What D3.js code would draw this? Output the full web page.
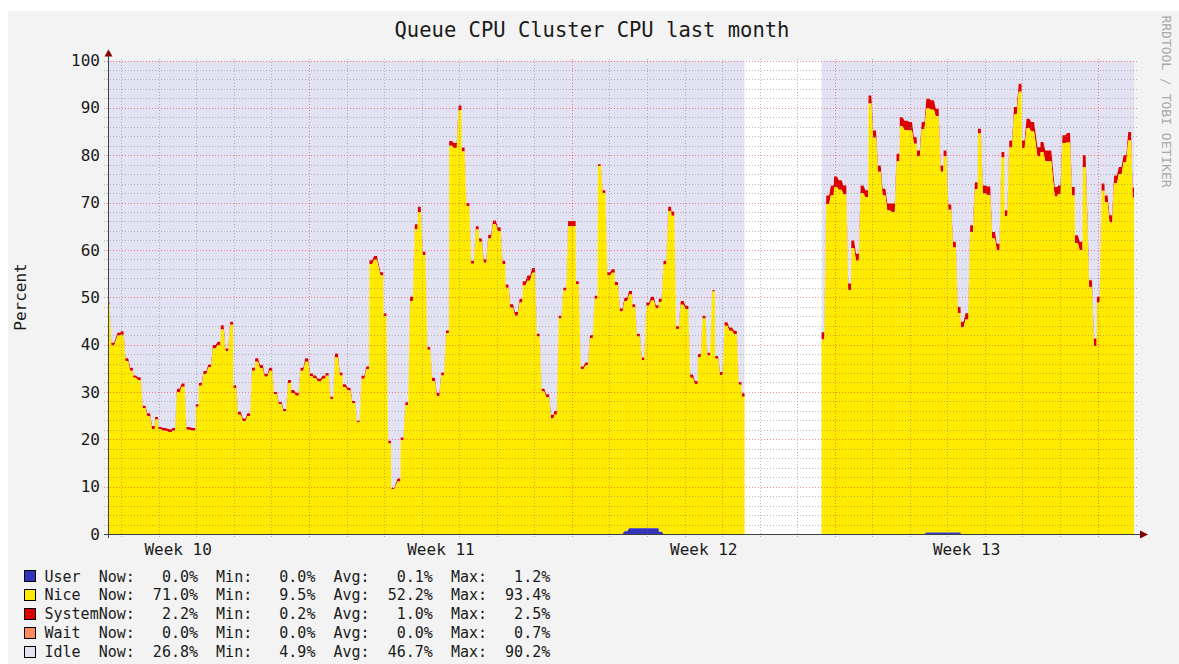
<html lang="en">
<head>
    <meta charset="UTF-8">
    <title>Queue CPU Cluster CPU last month</title>
    <style>
        body { margin: 0; background: #fff; }
        text { font-family: "DejaVu Sans Mono", monospace; fill: #1a1a1a; }
        .minor { stroke: rgba(120, 120, 120, 0.5); stroke-dasharray: 1,2; shape-rendering: crispEdges; }
        .major { stroke: rgba(255, 0, 0, 0.45); stroke-dasharray: 1,2; shape-rendering: crispEdges; }
    </style>
</head>
<body>

    <svg width="1179" height="664"></svg>

    <script src="https://cdn.jsdelivr.net/npm/d3@7"></script>
    <script>
        (function() {
            'use strict';

            var WIDTH = 1179;
            var HEIGHT = 664;
            var LEFT = 108, RIGHT = 1134, TOP = 60.5, BOTTOM = 534;

            // hours since the first sample (2012-03-06 15:30 UTC)
            var START = Date.UTC(2012, 2, 6, 15, 30);
            var SPAN_HOURS = 655.8;
            var HALF_STEP = 0.9; // each sample is drawn as a short flat step

            var hours = [
                0,3,7,9,12,15,17,20,23,26, 29,31,33,36,40,42,45,48,51,55,
                57,59,62,65,68,71,73,76,79,81, 84,87,90,93,95,98,101,104,107,110,
                113,116,118,121,124,127,130,132,135,138, 140,143,146,149,151,154,157,160,163,166,
                168,171,175,177,180,182,186,188,191,194, 197,199,202,205,208,211,214,217,219,222,
                225,227,230,233,236,238,241,244,247,250, 253,255,258,261,264,266,269,272,275,278,
                281,284,286,289,292,295,298,300,303,306, 309,312,314,317,320,323,325,328,331,334,
                336,339,342,345,348,351,353,356,359,361, 364,367,370,373,376,378,381,384,387,389,
                392,395,398,401,404,406,
                430,
                457,460,463,465,468,471,474,476,479, 482,485,487,490,493,496,499,502,505,507,
                510,513,516,518,521,524,527,530,533,535, 538,541,544,546,549,552,555,557,560,563,
                566,569,572,574,577,580,583,585,588,591, 595,597,600,602,606,608,611,614,617,619,
                622,624,628,631,633,636,638,641,644,647, 650,653,655.8
            ];

            var nice = [
                48.5,39.8,41.9,42.1,36.5,34.5,33.0,32.5,26.6,24.9, 22.2,24.2,22.1,21.8,21.5,21.8,30.0,31.1,22.0,21.8,
                26.9,31.3,33.8,35.2,39.2,39.9,43.2,38.6,44.2,30.8, 25.2,23.8,24.9,34.5,36.4,35.0,33.2,34.5,29.5,27.4,
                25.9,31.9,29.8,29.2,34.5,36.4,33.3,32.9,32.2,32.8, 33.4,28.5,37.3,33.5,31.0,30.3,27.6,23.6,32.8,34.8,
                57.0,57.9,54.6,46.0,19.1,9.5,11.1,19.8,27.2,49.2, 64.4,68.0,58.9,38.9,32.3,29.1,33.5,42.4,82.0,81.5,
                89.5,80.8,69.2,57.1,64.3,61.7,57.3,62.4,65.4,64.0, 57.0,52.0,47.8,46.1,48.9,52.5,53.5,55.2,41.7,30.1,
                28.9,24.4,25.2,45.5,51.4,65.0,65.0,52.8,34.8,35.6, 41.4,49.7,77.7,72.0,54.6,55.2,52.6,47.0,48.6,49.4,
                46.7,40.5,35.5,47.0,48.1,46.4,48.5,56.9,68.2,67.2, 43.3,48.4,47.5,33.0,31.6,37.4,45.5,37.7,51.2,37.0,
                33.6,44.0,42.9,42.2,31.5,29.0,
                null,
                41.1,69.7,71.6,73.3,72.7,71.7,51.5,60.4,57.7, 72.0,71.1,90.9,83.7,76.5,71.5,68.3,68.0,78.7,86.1,
                85.3,85.2,82.4,79.7,85.5,89.6,89.3,87.9,76.2,79.5, 68.2,60.2,46.4,43.6,45.3,63.8,72.8,84.6,71.9,71.6,
                62.4,59.9,79.5,67.1,81.6,88.6,93.4,81.5,85.7,85.0, 79.7,80.6,78.7,78.7,71.3,71.8,82.6,82.7,71.5,61.4,
                59.9,77.5,52.1,39.7,48.9,72.5,70.1,65.8,74.1,76.0, 78.5,83.1,71.0
            ];

            var system = [
                0.5,0.6,0.6,0.7,0.6,0.6,0.5,0.6,0.5,0.6, 0.6,0.5,0.5,0.6,0.6,0.6,0.7,0.7,0.6,0.6,
                0.5,0.6,0.6,0.6,0.7,0.7,0.9,0.6,0.6,0.6, 0.6,0.6,0.6,0.6,0.7,0.7,0.6,0.6,0.5,0.5,
                0.5,0.6,0.6,0.6,0.6,0.7,0.6,0.6,0.6,0.6, 0.6,0.5,0.8,0.6,0.6,0.6,0.5,0.3,0.6,0.6,
                0.8,0.8,0.7,0.6,0.6,0.2,0.6,0.6,0.6,0.9, 1.0,1.1,0.7,0.6,0.7,0.7,0.6,0.6,1.0,1.1,
                1.0,0.8,0.7,0.6,0.7,0.7,0.7,0.8,0.8,0.8, 0.7,0.7,0.7,0.8,0.8,0.9,1.1,1.0,0.6,0.6,
                0.6,0.8,0.8,0.6,0.6,1.1,1.1,0.6,0.6,0.6, 0.6,0.6,0.4,0.6,0.7,0.7,0.6,0.6,0.7,0.7,
                0.6,0.6,0.6,0.7,0.8,0.7,0.7,0.8,0.9,0.9, 0.6,0.8,0.7,0.7,0.7,0.6,0.6,0.6,0.3,0.6,
                0.6,0.7,0.7,0.7,0.6,0.7,
                null,
                1.5,1.8,2.0,2.2,2.0,1.9,1.4,1.6,1.5, 1.6,1.5,1.7,1.5,1.3,1.4,1.5,1.8,1.6,1.9,
                2.0,1.8,1.4,1.3,1.5,2.0,2.0,1.6,1.3,1.2, 1.1,1.2,1.3,1.2,1.3,1.4,1.5,1.0,1.7,1.8,
                1.4,1.4,1.2,1.3,1.5,1.6,1.7,1.6,2.0,2.0, 2.0,2.2,2.3,2.3,2.0,1.8,1.6,2.0,1.8,1.7,
                1.8,2.5,1.5,1.6,1.2,1.5,1.4,1.5,1.6,1.5, 1.5,1.8,2.2
            ];

            // user is zero except on these hours
            var userHours = [331,334,336,339,342,345,348,351,353, 524,527,530,533,535,538,541,544];
            var userVals  = [0.6,1.2,1.2,1.2,1.2,1.2,1.2,1.2,0.5, 0.3,0.3,0.3,0.3,0.3,0.3,0.3,0.3];

            var yTicks = [0,10,20,30,40,50,60,70,80,90,100];
            var weekStarts = ["2012-03-05", "2012-03-12", "2012-03-19", "2012-03-26"];
            var weekLabels = ["Week 10", "Week 11", "Week 12", "Week 13"];

            var legendNames = ["User", "Nice", "System", "Wait", "Idle"];
            var legendColors = ["#3333bb", "#ffea00", "#dd0000", "#ff8a60", "#e2e2f2"];
            var nowVals = [0.0, 71.0, 2.2, 0.0, 26.8];
            var minVals = [0.0, 9.5, 0.2, 0.0, 4.9];
            var avgVals = [0.1, 52.2, 1.0, 0.0, 46.7];
            var maxVals = [1.2, 93.4, 2.5, 0.7, 90.2];

            var userAt = new Map(userHours.map(function(h, i) { return [h, userVals[i]]; }));

            // stacked rows; every sample becomes a short flat step like rrdtool draws it
            var rows = [];
            hours.forEach(function(h, i) {
                var u = userAt.get(h) || 0;
                var ok = nice[i] != null;
                var edges = ok ? [Math.max(0, h - HALF_STEP), Math.min(SPAN_HOURS, h + HALF_STEP)] : [h];
                edges.forEach(function(e) {
                    rows.push({
                        t: new Date(START + e * 3600e3),
                        ok: ok,
                        u: u,
                        n: ok ? u + nice[i] : 0,
                        s: ok ? u + nice[i] + system[i] : 0
                    });
                });
            });

            var x = d3.scaleUtc()
                .domain([new Date(START), new Date(START + SPAN_HOURS * 3600e3)])
                .range([LEFT, RIGHT]);
            var y = d3.scaleLinear().domain([0, 100]).range([BOTTOM, TOP]);

            var svg = d3.select("svg");

            svg.append("rect").attr("x", 8).attr("y", 11)
                .attr("width", WIDTH - 8).attr("height", HEIGHT - 11).attr("fill", "#f3f3f3");
            svg.append("rect").attr("x", LEFT).attr("y", TOP)
                .attr("width", RIGHT - LEFT).attr("height", BOTTOM - TOP).attr("fill", "#ffffff");

            function band(lo, hi) {
                return d3.area()
                    .defined(function(d) { return d.ok; })
                    .x(function(d) { return x(d.t); })
                    .y0(function(d) { return y(lo(d)); })
                    .y1(function(d) { return y(hi(d)); });
            }

            var layers = [
                [legendColors[4], function(d) { return d.s; }, function() { return 100; }],
                [legendColors[2], function(d) { return d.n; }, function(d) { return d.s; }],
                [legendColors[1], function(d) { return d.u; }, function(d) { return d.n; }],
                [legendColors[0], function() { return 0; }, function(d) { return d.u; }]
            ];
            layers.forEach(function(l) {
                svg.append("path").datum(rows).attr("fill", l[0]).attr("d", band(l[1], l[2]));
            });

            // grid
            var g = svg.append("g");
            d3.range(2, 101, 2).forEach(function(v) {
                g.append("line").attr("class", v % 10 ? "minor" : "major")
                    .attr("x1", LEFT - 4).attr("x2", RIGHT + 4)
                    .attr("y1", Math.round(y(v)) + 0.5).attr("y2", Math.round(y(v)) + 0.5);
            });
            d3.utcDay.range(d3.utcDay.ceil(x.domain()[0]), x.domain()[1]).forEach(function(d) {
                var px = Math.round(x(d)) + 0.5;
                g.append("line").attr("class", d.getUTCDay() === 1 ? "major" : "minor")
                    .attr("x1", px).attr("x2", px).attr("y1", TOP - 2).attr("y2", BOTTOM + 5);
            });

            // axes lines + arrows
            svg.append("line").attr("x1", LEFT - 4).attr("x2", RIGHT + 7)
                .attr("y1", BOTTOM + 0.5).attr("y2", BOTTOM + 0.5).attr("stroke", "#3a4440");
            svg.append("line").attr("x1", LEFT + 0.5).attr("x2", LEFT + 0.5)
                .attr("y1", BOTTOM + 4).attr("y2", TOP - 5).attr("stroke", "#3a4440");
            svg.append("path").attr("fill", "#7f0000")
                .attr("d", "M" + (RIGHT + 6) + "," + (BOTTOM - 3.5) + "L" + (RIGHT + 14) + "," + (BOTTOM + 0.5) +
                    "L" + (RIGHT + 6) + "," + (BOTTOM + 4.5) + "Z");
            svg.append("path").attr("fill", "#7f0000")
                .attr("d", "M" + (LEFT - 3.5) + "," + (TOP - 4) + "L" + (LEFT + 0.5) + "," + (TOP - 11) +
                    "L" + (LEFT + 4.5) + "," + (TOP - 4) + "Z");

            var ya = svg.append("g").attr("transform", "translate(" + LEFT + ",0)")
                .call(d3.axisLeft(y).tickValues(yTicks).tickSize(0).tickPadding(8));
            ya.select(".domain").remove();
            ya.selectAll("text").attr("font-family", "DejaVu Sans Mono").attr("font-size", 16).attr("fill", "#1a1a1a");

            var centers = weekStarts.map(function(s) { return d3.utcHour.offset(new Date(s + "T00:00:00Z"), 84); });
            var xa = svg.append("g").attr("transform", "translate(0," + BOTTOM + ")")
                .call(d3.axisBottom(x).tickValues(centers).tickSize(0).tickPadding(10)
                    .tickFormat(function(d, i) { return weekLabels[i]; }));
            xa.select(".domain").remove();
            xa.selectAll("text").attr("font-family", "DejaVu Sans Mono").attr("font-size", 16).attr("fill", "#1a1a1a");

            // titles
            svg.append("text").attr("x", 592).attr("y", 37).attr("text-anchor", "middle")
                .attr("font-size", 20.5).text("Queue CPU Cluster CPU last month");
            svg.append("text").attr("transform", "translate(26,297) rotate(-90)")
                .attr("text-anchor", "middle").attr("font-size", 16).text("Percent");
            svg.append("text").attr("transform", "translate(1162,101.5) rotate(90)")
                .attr("text-anchor", "middle").attr("font-size", 13).style("fill", "#a8a8a8")
                .text("RRDTOOL / TOBI OETIKER");

            // legend
            var f = d3.format("6.1f");
            legendNames.forEach(function(name, i) {
                var cy = 576 + i * 18.9;
                svg.append("rect").attr("x", 24.5).attr("y", Math.round(cy - 6) + 0.5)
                    .attr("width", 11).attr("height", 11)
                    .attr("fill", legendColors[i]).attr("stroke", "#000");
                var line = (name + "      ").slice(0, 6) +
                    "Now:" + f(nowVals[i]) + "%  Min:" + f(minVals[i]) +
                    "%  Avg:" + f(avgVals[i]) + "%  Max:" + f(maxVals[i]) + "%";
                svg.append("text").attr("x", 44.5).attr("y", cy + 5.5)
                    .attr("font-size", 15).style("white-space", "pre").text(line);
            });
        })();
    </script>
</body>
</html>
